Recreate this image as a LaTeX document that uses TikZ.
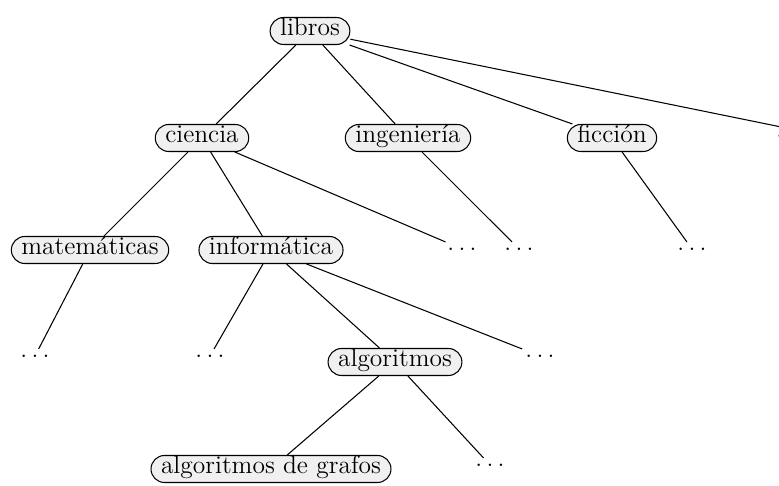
\documentclass[tikz,border=0pt]{standalone}
\usepackage{tikz}
\usetikzlibrary{positioning}

\begin{document}
\begin{tikzpicture}[x=0.02cm, y=-0.02cm, line width=0.6pt, font=\fontsize{14.5}{17}\selectfont]

    % Define the styles
    \tikzstyle{cat} = [rectangle, draw, fill=gray!12, rounded corners=0.27cm, minimum height=0.54cm, inner xsep=0.2cm, inner ysep=0pt, text height=1.6ex, text depth=0.45ex]
    \tikzstyle{dots} = [inner sep=3pt]
    \tikzstyle{line} = [draw]

    \useasboundingbox (0,0) rectangle (779,486);

    % Nodes
    \node (libros) [cat] at (310,31) {libros};

    \node (ciencia) [cat] at (202,138) {ciencia};
    \node (ingenieria) [cat] at (408,138) {ingeniería};
    \node (ficcion) [cat] at (612,138) {ficción};
    \node (mas) [dots] at (791,136) {$\ldots$};

    \node (matematicas) [cat] at (90,250) {matemáticas};
    \node (informatica) [cat] at (271,250) {informática};
    \node (dciencia) [dots] at (462,249) {$\ldots$};
    \node (dingenieria) [dots] at (519,249) {$\ldots$};
    \node (dficcion) [dots] at (692,249) {$\ldots$};

    \node (dmatematicas) [dots] at (35,356) {$\ldots$};
    \node (dinformatica) [dots] at (210,356) {$\ldots$};
    \node (algoritmos) [cat] at (395,362) {algoritmos};
    \node (dinfo2) [dots] at (540,356) {$\ldots$};

    \node (grafos) [cat] at (271,469) {algoritmos de grafos};
    \node (dalgoritmos) [dots] at (490,465) {$\ldots$};

    % Lines
    \draw [line] (libros) -- (ciencia);
    \draw [line] (libros) -- (ingenieria);
    \draw [line] (libros) -- (ficcion);
    \draw [line] (libros) -- (mas.north);

    \draw [line] (ciencia) -- (matematicas);
    \draw [line] (ciencia) -- (informatica);
    \draw [line] (ciencia) -- (dciencia);
    \draw [line] (ingenieria) -- (dingenieria);
    \draw [line] (ficcion) -- (dficcion);

    \draw [line] (matematicas) -- (dmatematicas);
    \draw [line] (informatica) -- (dinformatica);
    \draw [line] (informatica) -- (algoritmos);
    \draw [line] (informatica) -- (dinfo2);

    \draw [line] (algoritmos) -- (grafos);
    \draw [line] (algoritmos) -- (dalgoritmos);

\end{tikzpicture}
\end{document}
